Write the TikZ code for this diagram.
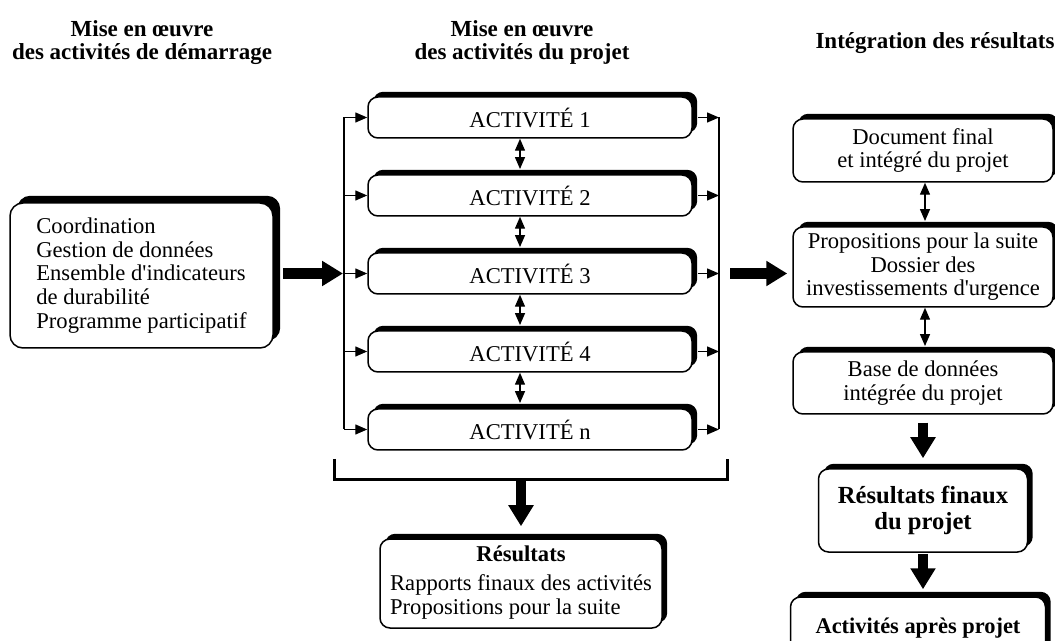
\documentclass[tikz,border=0pt]{standalone}
\usepackage{fontspec}
\setmainfont{Liberation Serif}
\usetikzlibrary{arrows.meta}
\usetikzlibrary{positioning}
\usetikzlibrary{shadows}
\tikzset{shadowbox/.style={draw, fill=white, line width=0.75pt,
    rounded corners=5pt, align=center, inner sep=2pt,
    font=\fontsize{11.3}{11.8}\selectfont,
    general shadow={fill=black, shadow xshift=#1, shadow yshift=#1}},
  shadowbox/.default=2.6pt}
\tikzset{actbox/.style={shadowbox, minimum width=162pt, minimum height=20.5pt}}
\tikzset{titre/.style={align=center, font=\bfseries\fontsize{11.5}{11.5}\selectfont}}
\tikzset{bigarrow/.style={-{Triangle[length=10.5pt,width=12pt]}, line width=5.25pt}}

\begin{document}
\begin{tikzpicture}[x=0.5pt, y=-0.5pt,
    >={Triangle[length=6pt,width=5pt]},
    node distance=39pt,
    on grid,
    line width=0.7pt]

  \useasboundingbox (0,0) rectangle (1055,641);

  % titres des colonnes
  \node[titre] (TitreDemarrage) at (142,43) {Mise en œuvre\\des activités de démarrage};
  \node[titre] (TitreProjet) at (522,42) {Mise en œuvre\\des activités du projet};
  \node[titre] (TitreIntegration) at (935,43) {Intégration des résultats};

  % demarrage
  \node[shadowbox=3.6pt, rounded corners=6.5pt, align=left,
        minimum width=131.5pt, minimum height=72.5pt]
    (Demarrage) at (141.5,275.5)
    {Coordination\\Gestion de données\\Ensemble d\textquotesingle indicateurs\\de durabilité\\Programme participatif};

  % activites du projet
  \node[actbox]
    (Act1) at (530,117.5) {ACTIVITÉ 1};
  \node[actbox]
    (Act2) [below=of Act1] {ACTIVITÉ 2};
  \node[actbox]
    (Act3) [below=of Act2] {ACTIVITÉ 3};
  \node[actbox]
    (Act4) [below=of Act3] {ACTIVITÉ 4};
  \node[actbox]
    (ActN) [below=of Act4] {ACTIVITÉ n};

  \node[shadowbox, minimum width=141pt, minimum height=44.5pt]
    (Resultats) at (521,583.5)
    {\textbf{Résultats}\\[3pt]\begin{tabular}[t]{@{}l@{}}Rapports finaux des activités\\Propositions pour la suite\end{tabular}};

  % integration
  \node[shadowbox, minimum width=130pt, minimum height=31.5pt]
    (DocFinal) at (923,150.5) {Document final\\et intégré du projet};
  \node[shadowbox, minimum width=130pt, minimum height=40pt]
    (Propositions) [below=58.25pt of DocFinal] {Propositions pour la suite\\Dossier des\\investissements d\textquotesingle urgence};
  \node[shadowbox, minimum width=130pt, minimum height=31pt]
    (BaseDonnees) [below=58pt of Propositions] {Base de données\\intégrée du projet};
  \node[shadowbox, minimum width=104.5pt, minimum height=41.5pt,
        font=\bfseries\fontsize{12.3}{13}\selectfont]
    (ResFinaux) [below=63.75pt of BaseDonnees] {Résultats finaux\\du projet};
  \node[shadowbox, minimum width=127.5pt, minimum height=31pt,
        font=\bfseries\fontsize{11.2}{12}\selectfont]
    (ApresProjet) [below=58.75pt of ResFinaux, xshift=-2.5pt] {Activités après projet};

  % bus et crochet
  \coordinate (LeftBus) at (344,0);
  \coordinate (RightBus) at (719,0);
  \coordinate (CrochetG) at (334,459);
  \coordinate (CrochetD) at (727,459);
  \coordinate (CrochetM) at (520,481);

  \draw (Act1.west -| LeftBus) -- (ActN.west -| LeftBus);
  \draw (Act1.east -| RightBus) -- (ActN.east -| RightBus);
  \draw[line width=1.5pt] (CrochetG) -- ++(0,21) -| (CrochetD);

  \path[->]
    (Act1.west -| LeftBus) edge (Act1.west)
    (Act2.west -| LeftBus) edge (Act2.west)
    (Act3.west -| LeftBus) edge (Act3.west)
    (Act4.west -| LeftBus) edge (Act4.west)
    (ActN.west -| LeftBus) edge (ActN.west)
    ([xshift=2.6pt]Act1.east) edge (Act1.east -| RightBus)
    ([xshift=2.6pt]Act2.east) edge (Act2.east -| RightBus)
    ([xshift=2.6pt]Act3.east) edge (Act3.east -| RightBus)
    ([xshift=2.6pt]Act4.east) edge (Act4.east -| RightBus)
    ([xshift=2.6pt]ActN.east) edge (ActN.east -| RightBus);

  \path[<->]
    ([xshift=-5pt]Act1.south) edge ([xshift=-5pt,yshift=2.6pt]Act2.north)
    ([xshift=-5pt]Act2.south) edge ([xshift=-5pt,yshift=2.6pt]Act3.north)
    ([xshift=-5pt]Act3.south) edge ([xshift=-5pt,yshift=2.6pt]Act4.north)
    ([xshift=-5pt]Act4.south) edge ([xshift=-5pt,yshift=2.6pt]ActN.north)
    ([xshift=1pt]DocFinal.south) edge ([xshift=1pt,yshift=2.6pt]Propositions.north)
    ([xshift=1pt]Propositions.south) edge ([xshift=1pt,yshift=2.6pt]BaseDonnees.north);

  \path[bigarrow]
    ([xshift=4.5pt]Act3.west -| Demarrage.east) edge ([xshift=-0.5pt]Act3.west -| LeftBus)
    ([xshift=5.5pt]Act3.east -| RightBus) edge ([xshift=-2.5pt]Act3.east -| Propositions.west)
    (Resultats.north |- CrochetM) edge ([yshift=6pt]Resultats.north)
    ([yshift=-4pt]ResFinaux.north |- BaseDonnees.south) edge ([yshift=5pt]ResFinaux.north)
    ([yshift=-0.5pt]ResFinaux.south) edge ([yshift=3.5pt]ApresProjet.north -| ResFinaux.south);

\end{tikzpicture}
\end{document}
